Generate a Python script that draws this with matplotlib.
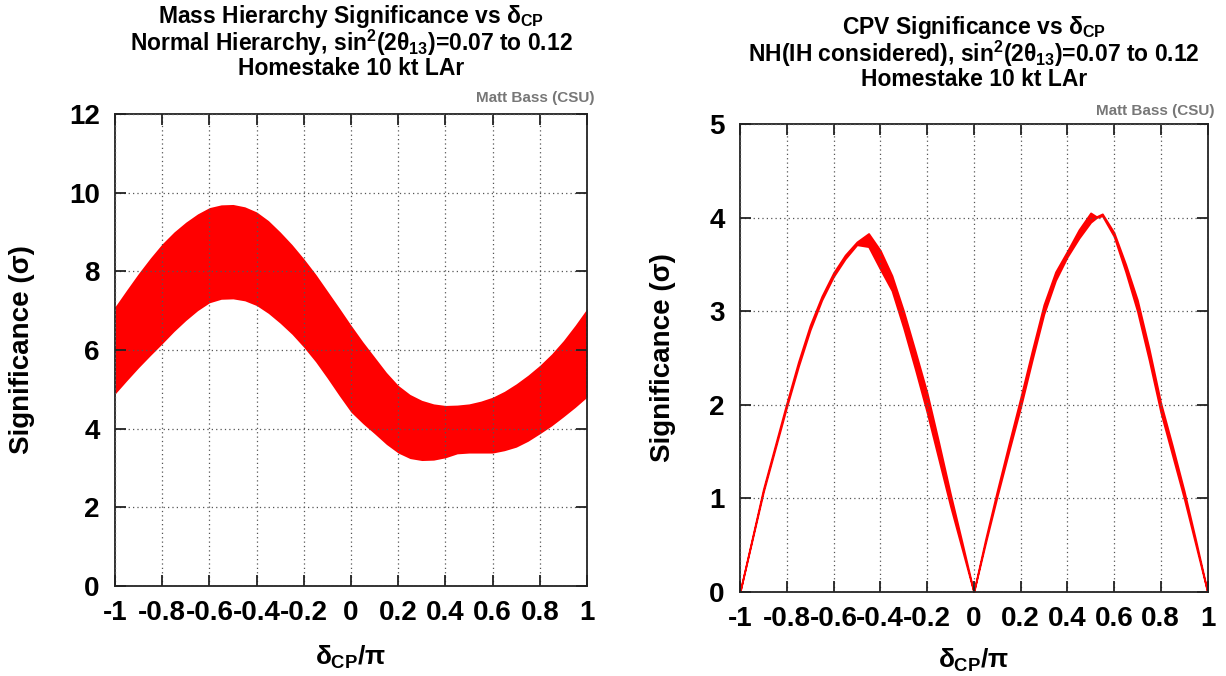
import matplotlib
matplotlib.use("Agg")
import matplotlib.pyplot as plt
import numpy as np

plt.rcParams["font.family"] = ["Liberation Sans", "DejaVu Sans"]
plt.rcParams["font.weight"] = "bold"
plt.rcParams["axes.labelweight"] = "bold"
plt.rcParams["mathtext.fontset"] = "custom"
plt.rcParams["mathtext.rm"] = "Liberation Sans:bold"
plt.rcParams["mathtext.it"] = "Liberation Sans:bold"
plt.rcParams["mathtext.bf"] = "Liberation Sans:bold"
plt.rcParams["mathtext.sf"] = "Liberation Sans:bold"

# Mass hierarchy band (delta_CP / pi), read every 0.05
mh_x = [-1.0, -0.95, -0.9, -0.85, -0.8, -0.75, -0.7, -0.65, -0.6, -0.55,
        -0.5, -0.45, -0.4, -0.35, -0.3, -0.25, -0.2, -0.15, -0.1, -0.05,
        0.0, 0.05, 0.1, 0.15, 0.2, 0.25, 0.3, 0.35, 0.4, 0.45,
        0.5, 0.55, 0.6, 0.65, 0.7, 0.75, 0.8, 0.85, 0.9, 0.95, 1.0]
mh_upper = [7.10, 7.53, 7.95, 8.34, 8.70, 9.00, 9.25, 9.46, 9.62, 9.69,
            9.70, 9.64, 9.51, 9.29, 9.00, 8.68, 8.32, 7.93, 7.50, 7.07,
            6.63, 6.21, 5.82, 5.43, 5.10, 4.87, 4.72, 4.63, 4.59, 4.60,
            4.63, 4.70, 4.80, 4.95, 5.14, 5.36, 5.61, 5.90, 6.24, 6.63, 7.05]
mh_lower = [4.88, 5.22, 5.55, 5.86, 6.16, 6.47, 6.75, 7.00, 7.20, 7.29,
            7.30, 7.25, 7.13, 6.93, 6.68, 6.40, 6.07, 5.70, 5.28, 4.84,
            4.42, 4.13, 3.87, 3.60, 3.38, 3.24, 3.19, 3.20, 3.26, 3.36,
            3.38, 3.38, 3.38, 3.44, 3.53, 3.68, 3.87, 4.07, 4.30, 4.54, 4.80]

# CPV band
cpv_x = [-1.0, -0.9, -0.8, -0.75, -0.7, -0.65, -0.6, -0.55, -0.5, -0.45,
         -0.4, -0.35, -0.3, -0.25, -0.2, -0.15, -0.1, -0.05, 0.0,
         0.05, 0.1, 0.15, 0.2, 0.25, 0.3, 0.35, 0.4, 0.45, 0.5, 0.525,
         0.55, 0.6, 0.65, 0.7, 0.75, 0.8, 0.85, 0.9, 0.95, 1.0]
cpv_lower = [0.0, 1.07, 1.98, 2.41, 2.80, 3.12, 3.37, 3.56, 3.71, 3.69,
             3.45, 3.22, 2.82, 2.38, 1.92, 1.42, 0.92, 0.46, 0.0,
             0.52, 1.02, 1.50, 1.97, 2.48, 2.97, 3.33, 3.58, 3.78, 3.95, 4.00,
             4.02, 3.80, 3.42, 3.00, 2.48, 1.92, 1.46, 1.00, 0.50, 0.0]
cpv_upper = [0.0, 1.10, 2.02, 2.46, 2.85, 3.16, 3.41, 3.60, 3.74, 3.83,
             3.65, 3.38, 3.00, 2.57, 2.13, 1.60, 1.05, 0.53, 0.0,
             0.56, 1.08, 1.58, 2.07, 2.58, 3.07, 3.42, 3.64, 3.87, 4.05, 4.01,
             4.04, 3.84, 3.50, 3.12, 2.60, 2.02, 1.56, 1.08, 0.55, 0.0]

x_ticks = [-1, -0.8, -0.6, -0.4, -0.2, 0, 0.2, 0.4, 0.6, 0.8, 1]
x_labels = ["-1", "-0.8", "-0.6", "-0.4", "-0.2", "0", "0.2", "0.4", "0.6", "0.8", "1"]

RED = "#ff0000"
W, H = 1226, 676
fig = plt.figure(figsize=(W / 100, H / 100), dpi=100)


def style_axes(ax, yticks, ylab_x, xpad):
    ax.set_xlim(-1, 1)
    ax.set_xticks(x_ticks)
    ax.set_xticklabels(x_labels)
    ax.set_yticks(yticks)
    ax.set_ylim(yticks[0], yticks[-1])
    ax.tick_params(direction="in", length=8, width=1.3, top=True, right=True,
                   labelsize=20, color="#222222")
    ax.tick_params(axis="x", pad=10)
    ax.tick_params(axis="y", pad=11)
    for s in ax.spines.values():
        s.set_linewidth(1.3)
        s.set_color("#222222")
    ax.grid(True, color="#555555", linestyle=(0, (1, 2.5)), linewidth=0.9)
    ax.set_axisbelow(False)
    ax.set_ylabel("Significance (σ)", fontsize=20)
    ax.yaxis.set_label_coords(ylab_x, 0.5)
    ax.set_xlabel(r"$\delta_{CP}/\pi$", fontsize=19, labelpad=xpad)


# left panel
ax1 = fig.add_axes([115 / W, 1 - 586 / H, 472 / W, 472 / H])
ax1.fill_between(mh_x, mh_lower, mh_upper, color=RED, lw=0, zorder=1)
style_axes(ax1, [0, 2, 4, 6, 8, 10, 12], (35 - 115) / 472, 13)

# right panel
ax2 = fig.add_axes([740 / W, 1 - 592 / H, 467.5 / W, 468 / H])
ax2.fill_between(cpv_x, cpv_lower, cpv_upper, color=RED, lw=1.3,
                 edgecolor=RED, zorder=1)
style_axes(ax2, [0, 1, 2, 3, 4, 5], (676 - 740) / 467.5, 11)

# titles
t_fs = 16.5
cx1 = 351 / W
fig.text(cx1, 1 - 23 / H, r"Mass Hierarchy Significance vs $\delta_{CP}$",
         ha="center", va="baseline", fontsize=t_fs)
fig.text(cx1, 1 - 51 / H, r"Normal Hierarchy, sin$^{2}$(2$\theta_{13}$)=0.07 to 0.12",
         ha="center", va="baseline", fontsize=t_fs)
fig.text(cx1, 1 - 75 / H, "Homestake 10 kt LAr",
         ha="center", va="baseline", fontsize=t_fs)

cx2 = 974 / W
fig.text(cx2, 1 - 34 / H, r"CPV Significance vs $\delta_{CP}$",
         ha="center", va="baseline", fontsize=t_fs)
fig.text(cx2, 1 - 62 / H, r"NH(IH considered), sin$^{2}$(2$\theta_{13}$)=0.07 to 0.12",
         ha="center", va="baseline", fontsize=t_fs)
fig.text(cx2, 1 - 86 / H, "Homestake 10 kt LAr",
         ha="center", va="baseline", fontsize=t_fs)

# credit
fig.text(594 / W, 1 - 102 / H, "Matt Bass (CSU)", ha="right", va="baseline",
         fontsize=11, color="#777777")
fig.text(1214 / W, 1 - 115 / H, "Matt Bass (CSU)", ha="right", va="baseline",
         fontsize=11, color="#777777")

fig.savefig("out.png", dpi=100)
